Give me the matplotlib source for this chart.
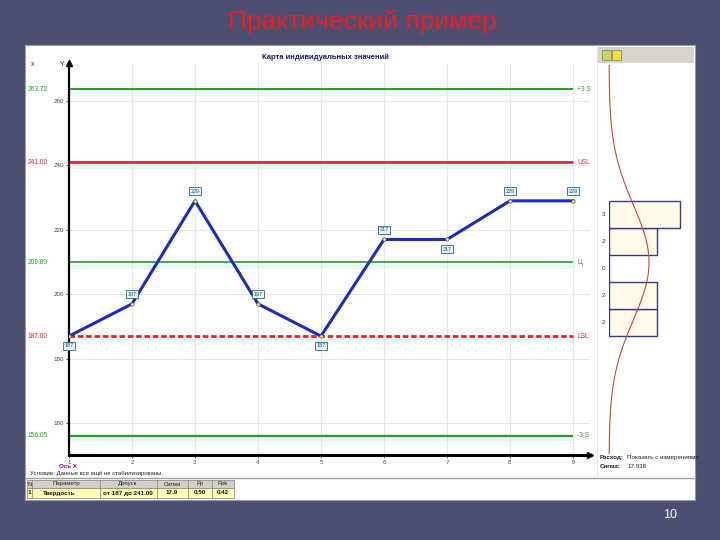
import numpy as np
import matplotlib.pyplot as plt
from matplotlib.patches import Rectangle

plt.rcParams['font.family'] = ['Liberation Sans', 'DejaVu Sans']

# -------------------------
# Data
# -------------------------

slide_title = "Практический пример"
chart_title = "Карта индивидуальных значений"

obs = [1, 2, 3, 4, 5, 6, 7, 8, 9]
values = [187, 197, 229, 197, 187, 217, 217, 229, 229]
label_side = [-1, 1, 1, 1, -1, 1, -1, 1, 1]   # 1 = label above point, -1 = below

limit_values = [263.72, 241.00, 209.89, 187.00, 156.05]
limit_left = ["263.72", "241.00", "209.89", "187.00", "156.05"]
limit_right = ["+3 S", "USL", "Ц", "LSL", "-3 S"]
limit_colors = ["#2a9a2a", "#e8203a", "#2a9a2a", "#e82020", "#2a9a2a"]
limit_styles = ["-", "-", "-", (0, (2, 1)), "-"]
limit_widths = [1.4, 2.0, 1.2, 2.0, 1.6]

y_ticks = [160, 180, 200, 220, 240, 260]

bin_edges = [187.0, 195.4, 203.8, 212.2, 220.6, 229.0]
bin_counts = [2, 2, 0, 2, 3]
mean_val = 209.89
sigma_val = 17.94

table_header = ["N", "Параметр", "Допуск", "Сигма", "Pp", "Ppk"]
table_row = ["1", "Твердость", "от 187 до 241.00", "17.9", "0.50", "0.42"]

# -------------------------
# Helpers (pixel layout)
# -------------------------

W, H = 720, 540


def box(x0, y0, x1, y1):
    return [x0 / W, 1 - y1 / H, (x1 - x0) / W, (y1 - y0) / H]


fig = plt.figure(figsize=(7.2, 5.4), dpi=100)
fig.patch.set_facecolor("#4b5072")

# background drawing layer in pixel coordinates
bg = fig.add_axes([0, 0, 1, 1])
bg.set_xlim(0, W)
bg.set_ylim(H, 0)
bg.axis("off")

# white panel
bg.add_patch(Rectangle((25, 45), 670, 455, facecolor="white", edgecolor="#9a9aa8", lw=0.8))
# toolbar of the right panel
bg.add_patch(Rectangle((598, 47), 96, 16, facecolor="#d8d4cc", edgecolor="none"))
bg.add_patch(Rectangle((602, 50), 9, 10, facecolor="#c8d860", edgecolor="#808060", lw=0.5))
bg.add_patch(Rectangle((612, 50), 9, 10, facecolor="#f2e040", edgecolor="#808060", lw=0.5))
bg.plot([597, 597], [47, 477], color="#e4e4e4", lw=0.8)
bg.plot([25, 695], [478, 478], color="#a0a0a0", lw=1.0)

bg.text(362, 22, slide_title, color="#ee1c24", fontsize=19, ha="center", va="center")
bg.text(670, 515, "10", color="white", fontsize=9, ha="center", va="center")

bg.text(325, 57, chart_title, color="#1a1a60", fontsize=5.5, ha="center", va="center",
        fontweight="bold")
bg.text(33, 65, "x", color="#333333", fontsize=5, ha="center", va="center")
bg.text(62, 65, "Y", color="#333333", fontsize=5, ha="center", va="center")

# -------------------------
# Main control chart
# -------------------------

ax = fig.add_axes(box(69, 63, 590, 455))
ax.set_xlim(1, 9.27)
ax.set_ylim(150.08, 271.8)
ax.patch.set_alpha(0)

for s in ["top", "right"]:
    ax.spines[s].set_visible(False)
ax.spines["left"].set_linewidth(1.6)
ax.spines["bottom"].set_linewidth(2.2)
ax.plot(1, 0, ">k", transform=ax.transAxes, clip_on=False, ms=4)
ax.plot(0, 1, "^k", transform=ax.transAxes, clip_on=False, ms=4)

ax.set_xticks(obs)
ax.set_yticks(y_ticks)
ax.tick_params(labelsize=4.5, length=2, width=0.6, colors="#444444", pad=1.5)
ax.grid(True, color="#e6e6e6", lw=0.8)

for val, col, ls, lw in zip(limit_values, limit_colors, limit_styles, limit_widths):
    ax.hlines(val - 1.4, obs[0], obs[-1], color="#eaf8f4", lw=3, zorder=1)
    ax.hlines(val, obs[0], obs[-1], color=col, lw=lw, linestyle=ls, zorder=2)

ax.plot(obs, values, color="#1a2dc0", lw=2.2, zorder=3)
ax.plot(obs, values, "o", color="#f0e890", mec="#606030", ms=2.5, mew=0.5, zorder=4)

for xv, yv, side in zip(obs, values, label_side):
    ax.annotate(str(yv), (xv, yv), xytext=(0, 7 * side), textcoords="offset points",
                ha="center", va="center", fontsize=4, color="#1a4aa0", zorder=5,
                bbox=dict(boxstyle="square,pad=0.25", fc="#e4f6fa", ec="#2a6a7a", lw=0.6))

# left / right limit labels
for val, txt_l, txt_r, col in zip(limit_values, limit_left, limit_right, limit_colors):
    ax.text(-31 / 521, val, txt_l, transform=ax.get_yaxis_transform(), color=col,
            fontsize=4.8, ha="center", va="center", clip_on=False)
    ax.text(9.07, val, txt_r, color=col, fontsize=4.8, ha="left", va="center", clip_on=False)

# -------------------------
# Histogram panel
# -------------------------

hx = fig.add_axes(box(609, 63, 690, 455))
hx.set_ylim(150.08, 271.8)
hx.set_xlim(0, 81 / 23.8)
hx.axis("off")

edges = np.array(bin_edges)
centers = (edges[:-1] + edges[1:]) / 2
widths = np.diff(edges)
hx.barh(centers, bin_counts, height=widths, left=0, facecolor="#fffbe8",
        edgecolor="#3a3a80", lw=1.0)
for c, n in zip(centers, bin_counts):
    hx.text(-0.05, c, str(n), transform=hx.get_yaxis_transform(), fontsize=4.5,
            ha="right", va="center", color="#333333", clip_on=False)

yy = np.linspace(150.5, 271, 300)
pdf = np.exp(-0.5 * ((yy - mean_val) / sigma_val) ** 2) / (sigma_val * np.sqrt(2 * np.pi))
hx.plot(len(values) * widths.mean() * pdf, yy, color="#c04848", lw=0.8, clip_on=False)

bg.text(600, 458, "Расход:", fontsize=4.5, fontweight="bold", color="#1a1a40", va="center")
bg.text(627, 458, "Показать с измерениями", fontsize=4.5, color="#1a1a40", va="center")
bg.text(600, 466, "Сигма:", fontsize=4.5, fontweight="bold", color="#1a1a40", va="center")
bg.text(627, 466, "17.938", fontsize=4.5, color="#1a1a40", va="center")

# -------------------------
# Bottom notes and table
# -------------------------

bg.text(68, 466, "Ось X", fontsize=4.5, fontweight="bold", color="#900090", ha="center",
        va="center")
bg.text(30, 474, "Условие: Данные все ещё не стабилизированы.", fontsize=4.3,
        color="#222222", va="center")

col_edges = [27, 32, 100, 157, 188, 212, 234]
col_centers = [29.5, 66, 128, 172, 200, 223]
bg.add_patch(Rectangle((27, 480), 207, 8, facecolor="#d4d0c8", edgecolor="#808080", lw=0.5))
bg.add_patch(Rectangle((27, 488), 207, 10, facecolor="#fffcb4", edgecolor="#808080", lw=0.5))
for xe in col_edges[1:-1]:
    bg.plot([xe, xe], [480, 498], color="#808080", lw=0.5)
for cx, txt in zip(col_centers, table_header):
    bg.text(cx, 484, txt, fontsize=4.3, ha="center", va="center", color="#222222")
for i, (cx, txt) in enumerate(zip(col_centers, table_row)):
    if i == 1:
        bg.text(43, 493, txt, fontsize=4.5, ha="left", va="center", fontweight="bold",
                color="#111111")
    else:
        bg.text(cx, 493, txt, fontsize=4.5, ha="center", va="center", fontweight="bold",
                color="#111111")

fig.savefig("out.png", dpi=100, facecolor=fig.get_facecolor())
